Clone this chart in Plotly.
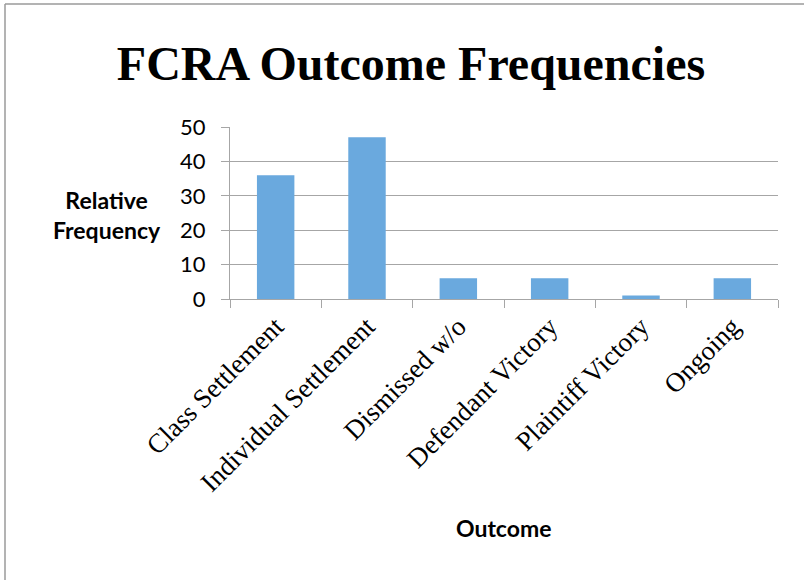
import plotly.graph_objects as go

# Chart data
outcomes = ["Class Settlement", "Individual Settlement", "Dismissed w/o",
            "Defendant Victory", "Plaintiff Victory", "Ongoing"]
frequency = [36, 47, 6, 6, 1, 6]
y_ticks = [0, 10, 20, 30, 40, 50]

W, H = 804, 580
L, R, T, B = 230, 26, 127, 281
pw, ph = W - L - R, H - T - B

fig = go.Figure()

fig.add_trace(go.Bar(
    x=outcomes, y=frequency,
    marker=dict(color="#6aa9de", line=dict(width=0)),
    width=0.41,
))

grid = "#a6a6a6"
fig.update_layout(
    width=W, height=H,
    margin=dict(l=L, r=R, t=T, b=B),
    paper_bgcolor="white", plot_bgcolor="white",
    showlegend=False,
    title=dict(text="<b>FCRA Outcome Frequencies</b>",
               x=411 / W, xref="container", xanchor="center",
               y=1 - 63 / H, yref="container", yanchor="middle",
               font=dict(family="Liberation Serif", size=48, color="black")),
    xaxis=dict(
        type="category", tickangle=-45,
        tickfont=dict(family="Liberation Serif", size=27, color="black"),
        showline=True, linecolor=grid, linewidth=1,
        ticks="outside", ticklen=8, tickcolor=grid, tickson="boundaries",
        showgrid=False, fixedrange=True,
    ),
    yaxis=dict(
        range=[0, 50], tickvals=y_ticks,
        tickfont=dict(family="Lato", size=22, color="black"),
        showline=True, linecolor=grid, linewidth=1,
        ticks="outside", ticklen=8, tickcolor=grid, ticklabelstandoff=11,
        showgrid=True, gridcolor=grid, gridwidth=1,
        zeroline=False, fixedrange=True,
    ),
    annotations=[
        # y-axis title, horizontal on two lines
        dict(text="<b>Relative<br>Frequency</b>",
             x=(107 - L) / pw, y=(299 - 215) / ph,
             xref="paper", yref="paper", showarrow=False,
             xanchor="center", yanchor="middle",
             font=dict(family="Lato", size=23, color="black")),
        dict(text="<b>Outcome</b>", x=0.5, y=-(528 - 299) / ph,
             xref="paper", yref="paper", showarrow=False,
             xanchor="center", yanchor="middle",
             font=dict(family="Lato", size=23, color="black")),
    ],
)

# outer frame (top and left edges visible)
fig.add_shape(type="line", xref="paper", yref="paper",
              x0=(5 - L) / pw, x1=(W - L) / pw,
              y0=(299 - 4) / ph, y1=(299 - 4) / ph,
              line=dict(color="#9a9a9a", width=1.5))
fig.add_shape(type="line", xref="paper", yref="paper",
              x0=(5 - L) / pw, x1=(5 - L) / pw,
              y0=(299 - 4) / ph, y1=(299 - H) / ph,
              line=dict(color="#9a9a9a", width=1.5))

fig.write_html("out.html", config={"displayModeBar": False},
               post_script="document.body.style.margin='0';")
